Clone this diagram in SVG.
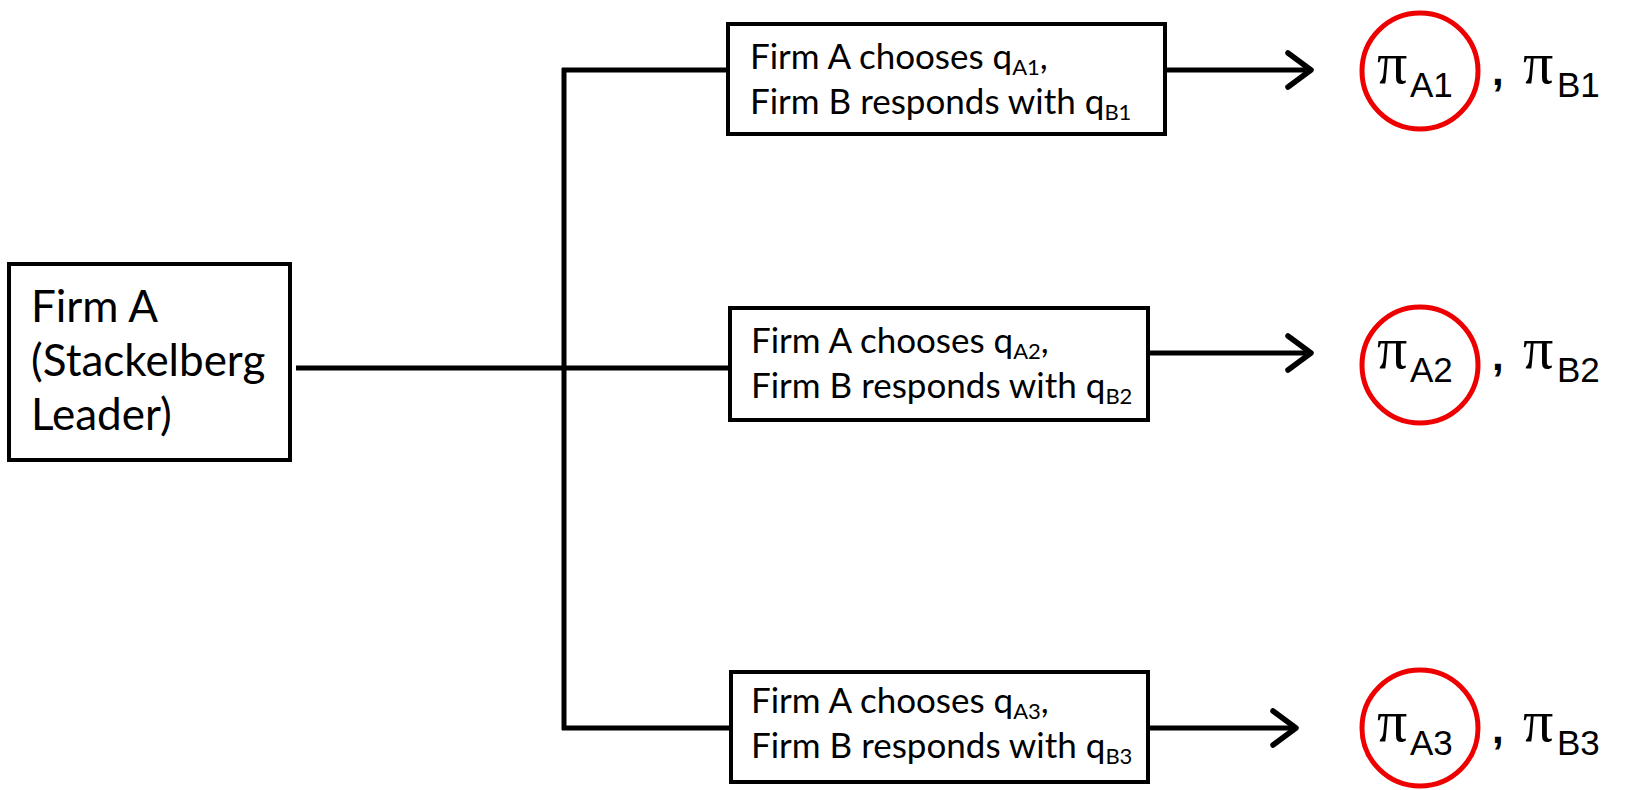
<svg xmlns="http://www.w3.org/2000/svg" width="1628" height="790" viewBox="0 0 1628 790">
<style>
.box{fill:#fff;stroke:#000;stroke-width:4}
.ln{fill:none;stroke:#000;stroke-width:5}
.ah{fill:none;stroke:#000;stroke-width:5.5;stroke-linecap:round;stroke-linejoin:round}
.bt{font-family:Lato,"Liberation Sans",sans-serif;font-size:35px;fill:#000}
.at{font-family:Lato,"Liberation Sans",sans-serif;font-size:44px;fill:#000}
.sub{font-size:22px}
.pi{font-family:"Liberation Serif",serif;font-size:60px;fill:#000}
.ps{font-family:"Liberation Sans",sans-serif;font-size:35px;fill:#000}
.cm{font-family:"Liberation Sans",sans-serif;font-size:42px;font-weight:bold;fill:#000}
.circ{fill:none;stroke:#e00;stroke-width:5}
</style>
<g id="connectors">
<line class="ln" x1="296" y1="368" x2="730" y2="368"/>
<line class="ln" x1="564" y1="68" x2="564" y2="730"/>
<line class="ln" x1="562" y1="70" x2="728" y2="70"/>
<line class="ln" x1="562" y1="728" x2="731" y2="728"/>
<path class="ln" d="M1165,70 H1306"/>
<path class="ah" d="M1288,53 L1311,70 L1288,87"/>
<path class="ln" d="M1148,353 H1306"/>
<path class="ah" d="M1288,336 L1311,353 L1288,370"/>
<path class="ln" d="M1148,728 H1292"/>
<path class="ah" d="M1273,711 L1296,728 L1273,745"/>
</g>
<g id="firmA">
<rect class="box" x="9" y="264" width="281" height="196"/>
<text class="at" x="31" y="322">Firm A</text>
<text class="at" x="31" y="376">(Stackelberg</text>
<text class="at" x="31" y="430">Leader)</text>
</g>
<g id="choice1">
<rect class="box" x="728" y="24" width="437" height="110"/>
<text class="bt" x="750" y="69">Firm A chooses q<tspan class="sub" dy="6">A1</tspan><tspan dy="-6">,</tspan></text>
<text class="bt" x="750" y="114">Firm B responds with q<tspan class="sub" dy="6">B1</tspan></text>
</g>
<g id="choice2">
<rect class="box" x="730" y="308" width="418" height="112"/>
<text class="bt" x="751" y="353">Firm A chooses q<tspan class="sub" dy="6">A2</tspan><tspan dy="-6">,</tspan></text>
<text class="bt" x="751" y="398">Firm B responds with q<tspan class="sub" dy="6">B2</tspan></text>
</g>
<g id="choice3">
<rect class="box" x="731" y="672" width="417" height="110"/>
<text class="bt" x="751" y="713">Firm A chooses q<tspan class="sub" dy="6">A3</tspan><tspan dy="-6">,</tspan></text>
<text class="bt" x="751" y="758">Firm B responds with q<tspan class="sub" dy="6">B3</tspan></text>
</g>
<g id="payoff1">
<circle class="circ" cx="1420" cy="71" r="58"/>
<text y="83"><tspan class="pi" x="1377">π</tspan><tspan class="ps" x="1410" dy="14">A1</tspan><tspan class="cm" x="1492" dy="-12">,</tspan><tspan class="pi" x="1523" dy="-2">π</tspan><tspan class="ps" x="1557" dy="14">B1</tspan></text>
</g>
<g id="payoff2">
<circle class="circ" cx="1420" cy="365" r="58"/>
<text y="368"><tspan class="pi" x="1377">π</tspan><tspan class="ps" x="1410" dy="14">A2</tspan><tspan class="cm" x="1492" dy="-12">,</tspan><tspan class="pi" x="1523" dy="-2">π</tspan><tspan class="ps" x="1557" dy="14">B2</tspan></text>
</g>
<g id="payoff3">
<circle class="circ" cx="1420" cy="728" r="58"/>
<text y="741"><tspan class="pi" x="1377">π</tspan><tspan class="ps" x="1410" dy="14">A3</tspan><tspan class="cm" x="1492" dy="-12">,</tspan><tspan class="pi" x="1523" dy="-2">π</tspan><tspan class="ps" x="1557" dy="14">B3</tspan></text>
</g>
</svg>
